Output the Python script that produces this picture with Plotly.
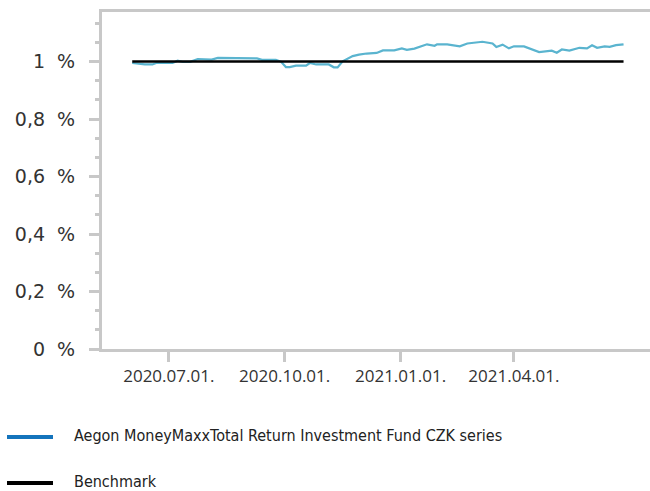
import plotly.graph_objects as go

fund_name = "Aegon MoneyMaxxTotal Return Investment Fund CZK series"
bench_name = "Benchmark"

fund_dates = ["2020-06-02","2020-06-12","2020-06-18","2020-06-21","2020-07-04","2020-07-08","2020-07-12","2020-07-18",
              "2020-07-24","2020-07-29","2020-08-04","2020-08-09","2020-08-18","2020-08-24","2020-09-09","2020-09-13",
              "2020-09-24","2020-09-28","2020-10-02","2020-10-05","2020-10-10","2020-10-18","2020-10-21","2020-10-26",
              "2020-11-05","2020-11-09","2020-11-12","2020-11-16","2020-11-24","2020-11-29","2020-12-05","2020-12-13",
              "2020-12-18","2020-12-27","2021-01-02","2021-01-06","2021-01-12","2021-01-22","2021-01-28","2021-01-30",
              "2021-02-07","2021-02-17","2021-02-23","2021-03-07","2021-03-15","2021-03-18","2021-03-23","2021-03-28",
              "2021-04-01","2021-04-09","2021-04-15","2021-04-21","2021-05-01","2021-05-05","2021-05-09","2021-05-15",
              "2021-05-23","2021-05-29","2021-06-02","2021-06-06","2021-06-12","2021-06-16","2021-06-21","2021-06-27"]
fund_values = [0.995,0.99,0.99,0.995,0.995,1.003,0.999,0.999,
               1.009,1.007,1.007,1.013,1.013,1.011,1.011,1.006,
               1.006,1.0,0.981,0.981,0.986,0.986,0.995,0.99,
               0.99,0.98,0.98,1.001,1.019,1.024,1.028,1.030,
               1.039,1.039,1.046,1.041,1.045,1.060,1.055,1.060,
               1.060,1.053,1.063,1.069,1.063,1.051,1.059,1.046,
               1.053,1.053,1.042,1.033,1.038,1.031,1.042,1.038,
               1.048,1.046,1.057,1.048,1.053,1.051,1.057,1.060]

bench_dates = ["2020-06-02", "2021-06-27"]
bench_values = [1.0, 1.0]

x_tick_vals = ["2020-07-01", "2020-10-01", "2021-01-01", "2021-04-01"]
x_tick_text = ["2020.07.01.", "2020.10.01.", "2021.01.01.", "2021.04.01."]
y_tick_vals = [0, 0.2, 0.4, 0.6, 0.8, 1.0]
y_tick_text = ["0\u00a0\u00a0%", "0,2\u00a0\u00a0%", "0,4\u00a0\u00a0%",
               "0,6\u00a0\u00a0%", "0,8\u00a0\u00a0%", "1\u00a0\u00a0%"]

AXIS = "#c8c8c8"
FUND_LINE = "#5ab4cf"
FUND_LEGEND = "#1474bc"
TXT = "#333333"
X_FONT = dict(family="Open Sans", size=17, color=TXT)
Y_FONT = dict(family="DejaVu Sans", size=19, color=TXT)
LEG_FONT = dict(family="DejaVu Sans Condensed, DejaVu Sans, sans-serif", size=16, color="#222222")

fig = go.Figure()
fig.add_trace(go.Scatter(x=fund_dates, y=fund_values, mode="lines",
                         line=dict(color=FUND_LINE, width=2.2), name=fund_name))
fig.add_trace(go.Scatter(x=bench_dates, y=bench_values, mode="lines",
                         line=dict(color="#000000", width=2.5), name=bench_name))

L, T, B, W, H = 102, 12, 142, 650, 491
pw = W - L
ph = H - T - B

def px_x(p):
    return (p - L) / pw

def px_y(p):
    return (H - B - p) / ph

legend_items = [(fund_name, FUND_LEGEND, 437), (bench_name, "#000000", 483)]
for name, col, py in legend_items:
    fig.add_shape(type="line", xref="paper", yref="paper",
                  x0=px_x(7), x1=px_x(53), y0=px_y(py), y1=px_y(py),
                  line=dict(color=col, width=4))
    fig.add_annotation(xref="paper", yref="paper", x=px_x(72), y=px_y(py - 2),
                       text=name, showarrow=False, xanchor="left", yanchor="middle",
                       font=LEG_FONT)

fig.update_layout(
    width=W, height=H,
    margin=dict(l=L, r=0, t=T, b=B),
    plot_bgcolor="white", paper_bgcolor="white",
    showlegend=False,
    xaxis=dict(type="date", range=["2020-05-09", "2021-07-18"],
               tickvals=x_tick_vals, ticktext=x_tick_text,
               ticks="outside", ticklen=10, tickwidth=3, tickcolor=AXIS,
               showline=True, linecolor=AXIS, linewidth=3, mirror=True,
               showgrid=False, zeroline=False, tickfont=X_FONT),
    yaxis=dict(range=[0, 1.1725], tickvals=y_tick_vals, ticktext=y_tick_text,
               ticks="outside", ticklen=10, tickwidth=3, tickcolor=AXIS,
               minor=dict(tick0=0, dtick=0.2 / 3, ticks="outside", ticklen=4,
                          tickwidth=3, tickcolor=AXIS, showgrid=False),
               showline=True, linecolor=AXIS, linewidth=3,
               showgrid=False, zeroline=False, tickfont=Y_FONT,
               ticklabelstandoff=10),
)

fig.write_html("out.html", config={"displayModeBar": False},
               post_script="document.body.style.margin='0px';")
